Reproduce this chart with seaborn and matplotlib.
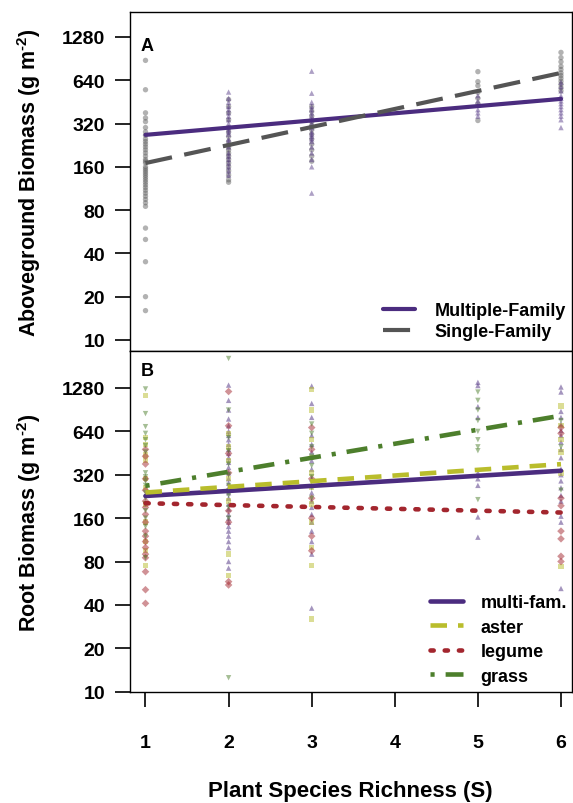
import numpy as np
import pandas as pd
import matplotlib
matplotlib.use('Agg')
from matplotlib import pyplot as plt
import seaborn as sns

# ---- data (g m-2) ----
richness = [1, 2, 3, 5, 6]

# panel A: aboveground biomass
above_single = {
    1: [880, 550, 380, 350, 330, 300, 280, 265, 250, 240, 230, 220, 210, 200, 190,
        180, 175, 170, 160, 155, 150, 145, 140, 135, 130, 125, 120, 115, 110, 105,
        100, 95, 90, 85, 60, 50, 35, 20, 16],
    2: [470, 420, 380, 340, 300, 280, 260, 240, 220, 210, 200, 190, 180, 170, 160,
        150, 140, 130, 125],
    3: [420, 390, 360, 330, 310, 290, 270, 250, 230, 210, 190, 175],
    5: [735, 626, 587, 527, 480, 440, 336],
    6: [1000, 920, 860, 800, 760, 720, 690, 660, 630, 600, 570, 540],
}
above_multi = {
    2: [530, 480, 450, 420, 400, 380, 360, 340, 320, 300, 290, 280, 270, 250, 240,
        230, 220, 200, 190, 180, 170, 160, 150, 140],
    3: [740, 520, 450, 420, 400, 380, 360, 340, 320, 300, 280, 270, 260, 250, 240,
        220, 200, 180, 160, 105],
    5: [500, 460, 430, 400, 380, 360],
    6: [620, 580, 540, 500, 480, 460, 440, 420, 400, 380, 360, 340, 300],
}
above_fit_multi = [267, 475]    # fitted value at S = 1 and S = 6
above_fit_single = [170, 720]

# panel B: root biomass
root_multi = {
    2: [1340, 1050, 900, 780, 700, 640, 600, 560, 520, 480, 450, 420, 390, 360, 330,
        300, 280, 260, 240, 220, 200, 185, 170, 160, 150, 140, 130, 120, 110, 100, 80, 72],
    3: [1320, 1000, 800, 600, 520, 460, 400, 350, 300, 270, 240, 210, 190, 170, 150,
        130, 110, 90, 38],
    5: [1400, 1330, 950, 800, 330, 300, 270, 163, 118],
    6: [1300, 1200, 880, 800, 720, 650, 600, 540, 480, 420, 350, 320, 290, 260, 230,
        210, 165, 150, 52],
}
root_aster = {
    1: [1130, 580, 520, 440, 400, 300, 260, 200, 150, 110, 95, 75],
    2: [620, 500, 400, 300, 250, 210, 90, 64],
    3: [1250, 900, 560, 420, 330, 260, 200, 150, 100, 75, 32],
    6: [960, 700, 560, 460, 330, 74],
}
root_legume = {
    1: [480, 430, 380, 300, 250, 210, 190, 170, 150, 130, 120, 110, 100, 90, 85, 68, 51, 41],
    2: [1210, 700, 450, 330, 180, 150, 58, 55],
    3: [680, 480, 300, 220, 160, 120, 95],
    6: [680, 620, 220, 195, 130, 115, 87, 80],
}
root_grass = {
    1: [1260, 850, 690, 620, 560, 510, 460, 330, 310, 290, 270, 240, 220, 200, 180,
        160, 140, 120, 85],
    2: [2050, 900, 580, 470, 380, 320, 270, 230, 190, 160, 12.5],
    3: [720, 620, 500, 430, 370, 310, 260, 220],
    5: [1200, 1050, 900, 760, 640, 560, 500, 470, 215],
    6: [760, 500, 250],
}
root_fit = {
    'multi-fam.': [228, 341],
    'aster': [241, 379],
    'legume': [203, 175],
    'grass': [268, 822],
}
fit_s = [1, 6]

yticks = [10, 20, 40, 80, 160, 320, 640, 1280]


def to_frame(groups):
    rows = []
    for name, d in groups.items():
        for s, vals in d.items():
            for v in vals:
                rows.append((s, v, name))
    return pd.DataFrame(rows, columns=['S', 'biomass', 'group'])


sns.set_style('ticks')
plt.rcParams['font.family'] = 'Liberation Sans'
plt.rcParams['font.weight'] = 'bold'
plt.rcParams['axes.labelweight'] = 'bold'
plt.rcParams['mathtext.fontset'] = 'custom'
plt.rcParams['mathtext.rm'] = 'Liberation Sans:bold'
plt.rcParams['mathtext.it'] = 'Liberation Sans:bold'
plt.rcParams['mathtext.bf'] = 'Liberation Sans:bold'
plt.rcParams['text.color'] = 'black'
plt.rcParams['axes.labelcolor'] = 'black'
plt.rcParams['xtick.color'] = 'black'
plt.rcParams['ytick.color'] = 'black'
plt.rcParams['axes.edgecolor'] = 'black'
plt.rcParams['axes.linewidth'] = 1.0
plt.rcParams['xtick.major.width'] = 1.2
plt.rcParams['ytick.major.width'] = 1.2

cmap = {
    'Multiple-Family': '#4b2c7f', 'Single-Family': '#555555',
    'multi-fam.': '#4b2c7f', 'aster': '#b9bd2c', 'legume': '#a3262e', 'grass': '#4d7f2c',
}
shape = {
    'Multiple-Family': '^', 'Single-Family': 'o',
    'multi-fam.': '^', 'aster': 's', 'legume': 'D', 'grass': 'v',
}
lstyle = {
    'Multiple-Family': '-', 'Single-Family': (0, (6.5, 3.0)),
    'multi-fam.': '-', 'aster': (0, (3.6, 2.4)), 'legume': (0, (0.7, 2.4)),
    'grass': (0, (0.9, 2.4, 4.6, 2.4)),
}

fig = plt.figure(figsize=(5.73, 8.04), dpi=100)
L, R = 129.5 / 573, 571.5 / 573
axA = fig.add_axes([L, 1 - 352 / 804, R - L, (352 - 13) / 804])
axB = fig.add_axes([L, 1 - 693 / 804, R - L, (693 - 352) / 804])

# ---- panel A ----
dfA = to_frame({'Single-Family': above_single, 'Multiple-Family': above_multi})
sns.scatterplot(data=dfA, x='S', y='biomass', hue='group', style='group',
                palette=cmap, markers=shape, s=15, alpha=0.45, linewidth=0,
                legend=False, ax=axA)
for name, fit in [('Multiple-Family', above_fit_multi), ('Single-Family', above_fit_single)]:
    sns.lineplot(x=fit_s, y=fit, color=cmap[name], linestyle=lstyle[name],
                 lw=3.0, label=name, ax=axA)

# ---- panel B ----
dfB = to_frame({'multi-fam.': root_multi, 'aster': root_aster,
                'legume': root_legume, 'grass': root_grass})
sns.scatterplot(data=dfB, x='S', y='biomass', hue='group', style='group',
                palette=cmap, markers=shape, s=15, alpha=0.5, linewidth=0,
                legend=False, ax=axB)
for name, fit in root_fit.items():
    sns.lineplot(x=fit_s, y=fit, color=cmap[name], linestyle=lstyle[name],
                 lw=3.3, label=name, ax=axB,
                 dash_capstyle='round' if name == 'legume' else 'butt')

for ax in (axA, axB):
    ax.set_yscale('log')
    ax.set_xlim(0.8075, 6.1265)
    ax.set_yticks(yticks)
    ax.set_yticklabels([str(t) for t in yticks])
    ax.minorticks_off()
    ax.tick_params(axis='y', direction='out', length=10.5, pad=7, labelsize=14)
    ax.set_xlabel('')
    for sp in ax.spines.values():
        sp.set_visible(True)
        sp.set_color('black')

axA.set_ylim(8.38, 1910)
axB.set_ylim(9.95, 2311)
axA.set_xticks([])
axB.set_xticks([1, 2, 3, 4, 5, 6])
axB.tick_params(axis='x', direction='out', length=10.5, pad=20, labelsize=14)

axA.set_ylabel(r'Aboveground Biomass (g m$^{\text{-2}}$)', fontsize=15.5)
axB.set_ylabel(r'Root Biomass (g m$^{\text{-2}}$)', fontsize=15.5)
for ax in (axA, axB):
    ax.yaxis.set_label_coords(-(L - 43 / 573) / (R - L), 0.5)
fig.text((L + R) / 2, 1 - 792 / 804, 'Plant Species Richness (S)',
         ha='center', va='center', fontsize=16, fontweight='bold')

axA.text(0.025, 0.9, 'A', transform=axA.transAxes, ha='left', va='center',
         fontsize=13, fontweight='bold')
axB.text(0.025, 0.942, 'B', transform=axB.transAxes, ha='left', va='center',
         fontsize=13, fontweight='bold')

axA.legend(loc='upper left', bbox_to_anchor=(383 / 573, 1 - 303 / 804),
           bbox_transform=fig.transFigure, frameon=False, fontsize=13,
           handlelength=1.8, handletextpad=1.05, labelspacing=0.22,
           borderpad=0, borderaxespad=0)
axB.legend(loc='upper left', bbox_to_anchor=(430 / 573, 1 - 595 / 804),
           bbox_transform=fig.transFigure, frameon=False, fontsize=13,
           handlelength=1.8, handletextpad=1.0, labelspacing=0.42,
           borderpad=0, borderaxespad=0)

plt.savefig('out.png', dpi=100)
plt.close(fig)
